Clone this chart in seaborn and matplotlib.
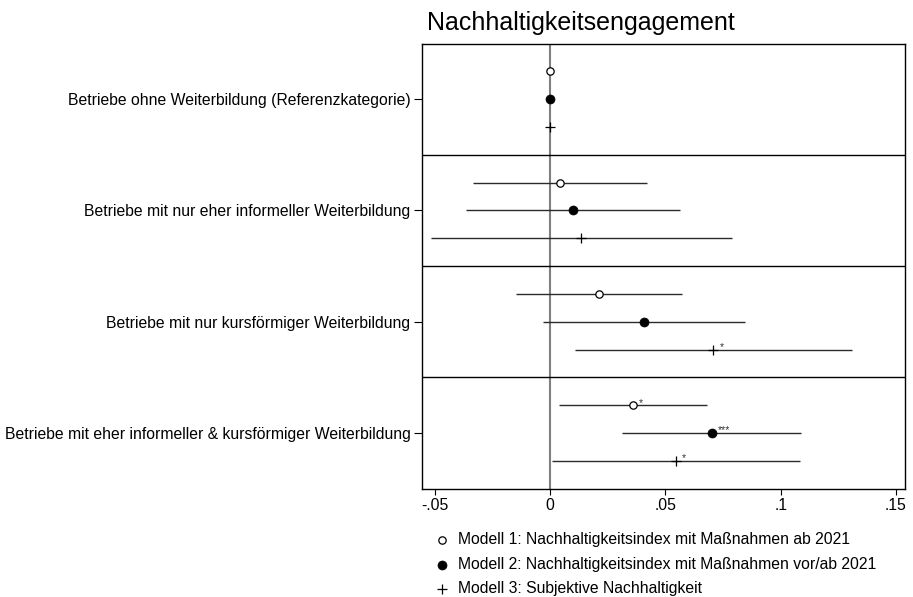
import matplotlib
matplotlib.use("Agg")
import matplotlib.pyplot as plt
import seaborn as sns
import pandas as pd

# Kategorien (von oben nach unten)
categories = [
    "Betriebe ohne Weiterbildung (Referenzkategorie)",
    "Betriebe mit nur eher informeller Weiterbildung",
    "Betriebe mit nur kursförmiger Weiterbildung",
    "Betriebe mit eher informeller & kursförmiger Weiterbildung",
]
models = [
    "Modell 1: Nachhaltigkeitsindex mit Maßnahmen ab 2021",
    "Modell 2: Nachhaltigkeitsindex mit Maßnahmen vor/ab 2021",
    "Modell 3: Subjektive Nachhaltigkeit",
]

# Koeffizienten je Modell (eine Zeile pro Kategorie)
coef_m1 = [0.0, 0.0043, 0.0212, 0.0359]
low_m1 = [0.0, -0.0335, -0.0146, 0.0040]
high_m1 = [0.0, 0.0419, 0.0571, 0.0680]
stars_m1 = ["", "", "", "*"]

coef_m2 = [0.0, 0.0098, 0.0408, 0.0700]
low_m2 = [0.0, -0.0367, -0.0030, 0.0310]
high_m2 = [0.0, 0.0564, 0.0846, 0.1090]
stars_m2 = ["", "", "", "***"]

coef_m3 = [0.0, 0.0136, 0.0708, 0.0546]
low_m3 = [0.0, -0.0516, 0.0110, 0.0010]
high_m3 = [0.0, 0.0788, 0.1310, 0.1085]
stars_m3 = ["", "", "*", "*"]

xticks = [-0.05, 0, 0.05, 0.1, 0.15]
xticklabels = ["-.05", "0", ".05", ".1", ".15"]

sns.set_style("ticks")
plt.rcParams["font.family"] = ["Liberation Sans", "DejaVu Sans"]
plt.rcParams["text.color"] = "black"
plt.rcParams["xtick.color"] = "black"
plt.rcParams["ytick.color"] = "black"
plt.rcParams["xtick.labelcolor"] = "black"
plt.rcParams["ytick.labelcolor"] = "black"

rows = []
for m, (c, lo, hi, st) in enumerate([(coef_m1, low_m1, high_m1, stars_m1),
                                     (coef_m2, low_m2, high_m2, stars_m2),
                                     (coef_m3, low_m3, high_m3, stars_m3)]):
    for i in range(len(categories)):
        rows.append({"model": models[m], "idx": m, "cat": i,
                     "y": i + (m - 1) * 0.25, "coef": c[i], "low": lo[i],
                     "high": hi[i], "stars": st[i]})
df = pd.DataFrame(rows)

fig = plt.figure(figsize=(9.13, 5.97), dpi=100)
ax = fig.add_axes([0.4619, 0.1814, 0.5293, 0.7457])

ax.axvline(0, color="#7f7f7f", lw=1.5, zorder=1)
for b in [0.5, 1.5, 2.5]:
    ax.axhline(b, color="black", lw=1.0, zorder=1)

ax.hlines(df["y"], df["low"], df["high"], color="#2b2b2b", lw=1.0, zorder=2)

styles = [
    dict(marker="o", s=28, facecolor="white", edgecolor="black", linewidth=0.9),
    dict(marker="o", s=42, color="black", edgecolor="black", linewidth=0.5),
    dict(marker="+", s=44, color="black", linewidth=0.9),
]
for m, name in enumerate(models):
    sub = df[df["idx"] == m]
    sns.scatterplot(data=sub, x="coef", y="y", ax=ax, label=name, zorder=3,
                    legend=True, **styles[m])

for _, r in df[df["stars"] != ""].iterrows():
    ax.annotate(r["stars"], (r["coef"], r["y"]), xytext=(4.5, 1.8),
                textcoords="offset points", fontsize=7.5, ha="left", va="center",
                color="#333333")

ax.set_ylim(3.5, -0.5)
ax.set_xlim(-0.0557, 0.1539)
ax.set_yticks(range(len(categories)))
ax.set_yticklabels(categories, fontsize=11.3)
ax.set_xticks(xticks)
ax.set_xticklabels(xticklabels, fontsize=11.3)
ax.tick_params(axis="y", length=6, width=0.8, pad=2)
ax.tick_params(axis="x", length=4.5, width=0.8, pad=2)
ax.set_xlabel("")
ax.set_ylabel("")
for sp in ax.spines.values():
    sp.set_color("black")
    sp.set_linewidth(1.0)

leg = ax.legend(loc="upper left", bbox_to_anchor=(438 / 913, 1 - 532 / 597),
                bbox_transform=fig.transFigure, frameon=False, fontsize=11.3,
                handlelength=0.5, handletextpad=0.75, labelspacing=0.62,
                borderaxespad=0, borderpad=0)

fig.text(581 / 913, 1 - 30 / 597, "Nachhaltigkeitsengagement", ha="center",
         va="baseline", fontsize=18)

fig.savefig("out.png", dpi=100)
